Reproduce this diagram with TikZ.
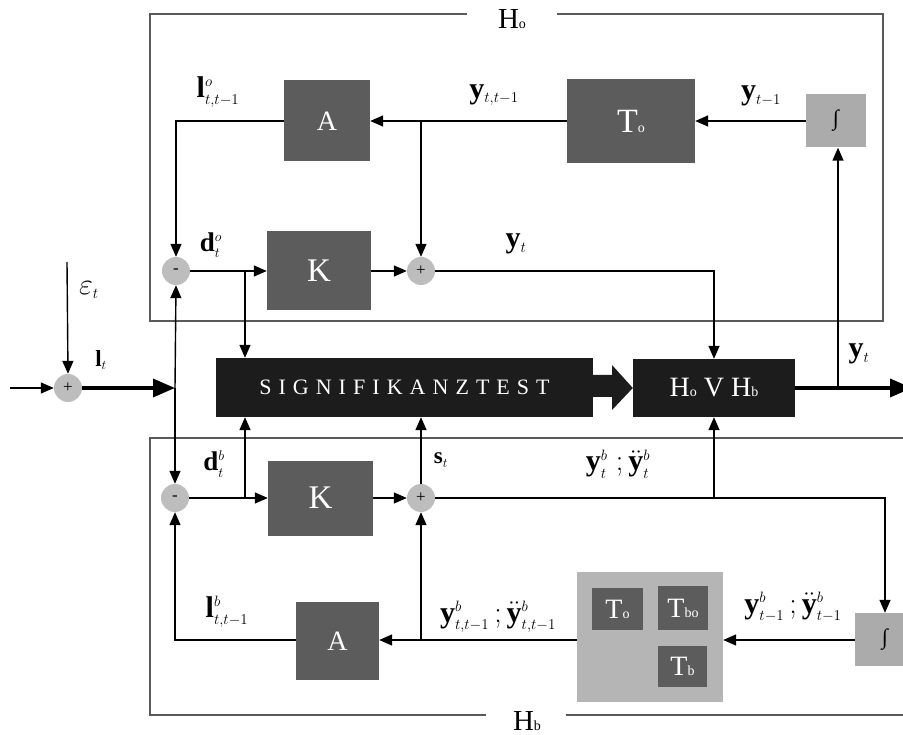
\RequirePackage{fix-cm}
\documentclass[tikz,border=0pt]{standalone}
\usepackage{fontspec}
\setmainfont{Liberation Serif}
\usetikzlibrary{arrows.meta}
\DeclareMathSizes{30}{30}{15}{12}
\DeclareMathSizes{27}{27}{14}{11}
\DeclareMathSizes{23}{23}{13}{10}
\definecolor{dk}{HTML}{5C5C5C}
\definecolor{lg}{HTML}{ABABAB}
\definecolor{tray}{HTML}{B5B5B5}
\definecolor{cg}{HTML}{BDBDBD}
\definecolor{bk}{HTML}{1C1C1C}
\definecolor{fr}{HTML}{5A5A5A}
\newcommand\fs[1]{\fontsize{#1}{#1}\selectfont}
\newcommand\lsub[2]{#1{\fs{14}#2}}
\begin{document}
\begin{tikzpicture}[x=1pt,y=-1pt,
  blk/.style={fill=dk,text=white,inner sep=0pt,font=\fs{33}},
  intg/.style={fill=lg,inner sep=0pt,minimum width=60pt,minimum height=53pt,font=\fs{22}},
  sumc/.style={circle,fill=cg,inner sep=0pt,minimum size=28pt,font=\fs{17}},
  blackbox/.style={fill=bk,text=white,inner sep=0pt},
  arr/.style={line width=1.4pt,-{Triangle[length=13pt,width=11pt]}},
  thk/.style={line width=3.5pt,-{Triangle[length=22pt,width=18pt]}},
  frm/.style={draw=fr,line width=1.1pt},
  lab/.style={inner sep=0pt,font=\fs{30}},
  labm/.style={inner sep=0pt,font=\fs{27}},
  labs/.style={inner sep=0pt,font=\fs{23}}]
\clip (0,0) rectangle (903,735);
\fill[white] (0,0) rectangle (903,735);
% frames
\draw[frm] (467,14) -- (150,14) -- (150,321) -- (883,321) -- (883,14) -- (557,14);
\node[inner sep=0pt,font=\fs{29}] (Ho) at (512,19) {\lsub{H}{o}};
\draw[frm] (903,438) -- (150,438) -- (150,715) -- (486,715);
\draw[frm] (566,715) -- (903,715);
\node[inner sep=0pt,font=\fs{29}] (Hb) at (527,721) {\lsub{H}{b}};
% top blocks
\node[blk,minimum width=86pt,minimum height=81pt,font=\fs{28}] (Ao) at (327,121) {A};
\node[blk,minimum width=128pt,minimum height=84pt,font=\fs{34}] (To) at (631,121) {\lsub{T}{o}};
\node[intg] (Io) at (836,121) {∫};
\node[blk,minimum width=104pt,minimum height=79pt] (Ko) at (319,271) {K};
\node[sumc] (mo) at (176,271) {-};
\node[sumc] (po) at (421,271) {+};
% middle
\node[blackbox,minimum width=377pt,minimum height=59pt,font=\fs{22}\addfontfeature{LetterSpace=32}] (SIG) at (404.5,387.5) {SIGNIFIKANZTEST};
\node[blackbox,minimum width=162pt,minimum height=58pt,font=\fs{28}] (HV) at (714,388) {\lsub{H}{o} V \lsub{H}{b}};
\node[sumc] (pin) at (68,388) {+};
% bottom blocks
\node[sumc] (mb) at (175,498) {-};
\node[blk,minimum width=105pt,minimum height=75pt] (Kb) at (320.5,498) {K};
\node[sumc] (pb) at (421,498) {+};
\node[blk,minimum width=83pt,minimum height=78pt,font=\fs{28}] (Ab) at (337.5,641) {A};
\node[fill=tray,minimum width=146pt,minimum height=130pt,inner sep=0pt] (tr) at (650,637) {};
\node[blk,minimum width=51pt,minimum height=42pt,font=\fs{28}] (Tob) at (617.5,609) {\lsub{T}{o}};
\node[blk,minimum width=50pt,minimum height=44pt,font=\fs{28}] (Tbo) at (683,608) {\lsub{T}{bo}};
\node[blk,minimum width=49pt,minimum height=41pt,font=\fs{28}] (Tb) at (682.5,666.5) {\lsub{T}{b}};
\node[intg] (Ib) at (885,639.5) {∫};
% coordinates
\coordinate (j1) at (421,121);
\coordinate (j2) at (245,271);
\coordinate (in) at (10,388);
\coordinate (eps) at (67,262);
\coordinate (jin) at (175,388);
\coordinate (out) at (912,388);
\coordinate (jout) at (838,388);
\coordinate (j3) at (245,498);
\coordinate (j4) at (714,498);
\coordinate (j5) at (421,640);
% top connectors
\draw[arr] (Io.west) -- (To.east);
\draw[arr] (To.west) -- (Ao.east);
\draw[arr] (j1) -- (po.north);
\draw[arr] (Ao.west) -| (mo.north);
\draw[arr] (mo.east) -- (Ko.west);
\draw[arr] (j2) -- (j2 |- SIG.north);
\draw[arr] (Ko.east) -- (po.west);
\draw[arr] (po.east) -| (HV.north);
% input
\draw[arr] (in) -- (pin.west);
\draw[arr] (eps) -- (pin.north);
\draw[thk] (pin.east) -- (jin);
\draw[arr] (jin) -- (mo.south);
\draw[arr] (jin) -- (mb.north);
% fat arrow
\fill[bk] (SIG.east |- 0,375) -- (612,375) -- (612,365) -- (HV.west) -- (612,410) -- (612,397) -- (SIG.east |- 0,397) -- cycle;
% output
\draw[thk] (HV.east) -- (out);
\draw[arr] (jout) -- (jout |- Io.south);
% bottom connectors
\draw[arr] (mb.east) -- (Kb.west);
\draw[arr] (j3) -- (j3 |- SIG.south);
\draw[arr] (Kb.east) -- (pb.west);
\draw[arr] (pb.north) -- (pb |- SIG.south);
\draw[arr] (pb.east) -| (Ib.north);
\draw[arr] (j4) -- (HV.south);
\draw[arr] (Ib.west |- j5) -- (tr.east |- j5);
\draw[arr] (tr.west |- j5) -- (Ab.east |- j5);
\draw[arr] (j5) -- (pb.south);
\draw[arr] (Ab.west |- j5) -| (mb.south);
% labels
\node[lab] (l1) at (218,92) {$\mathbf{l}^{o}_{t,t-1}$};
\node[lab] (l2) at (494,95) {$\mathbf{y}_{t,t-1}$};
\node[lab] (l3) at (761,96) {$\mathbf{y}_{t-1}$};
\node[labm] (l4) at (211,245) {$\mathbf{d}^{o}_{t}$};
\node[lab] (l5) at (516,244) {$\mathbf{y}_{t}$};
\node[lab] (l6) at (89,290) {$\varepsilon_t$};
\node[labs] (l7) at (101,360) {$\mathbf{l}_t$};
\node[lab] (l8) at (859,354) {$\mathbf{y}_t$};
\node[labm] (l9) at (214,464) {$\mathbf{d}^{b}_{t}$};
\node[labs] (l10) at (441,460) {$\mathbf{s}_t$};
\node[lab] (l11) at (618,464) {$\mathbf{y}^{b}_{t}\;;\ddot{\mathbf{y}}^{b}_{t}$};
\node[lab] (l12) at (227,612) {$\mathbf{l}^{b}_{t,t-1}$};
\node[lab] (l13) at (498,617) {$\mathbf{y}^{b}_{t,t-1}\,;\ddot{\mathbf{y}}^{b}_{t,t-1}$};
\node[lab] (l14) at (793,607) {$\mathbf{y}^{b}_{t-1}\,;\ddot{\mathbf{y}}^{b}_{t-1}$};
\end{tikzpicture}
\end{document}
